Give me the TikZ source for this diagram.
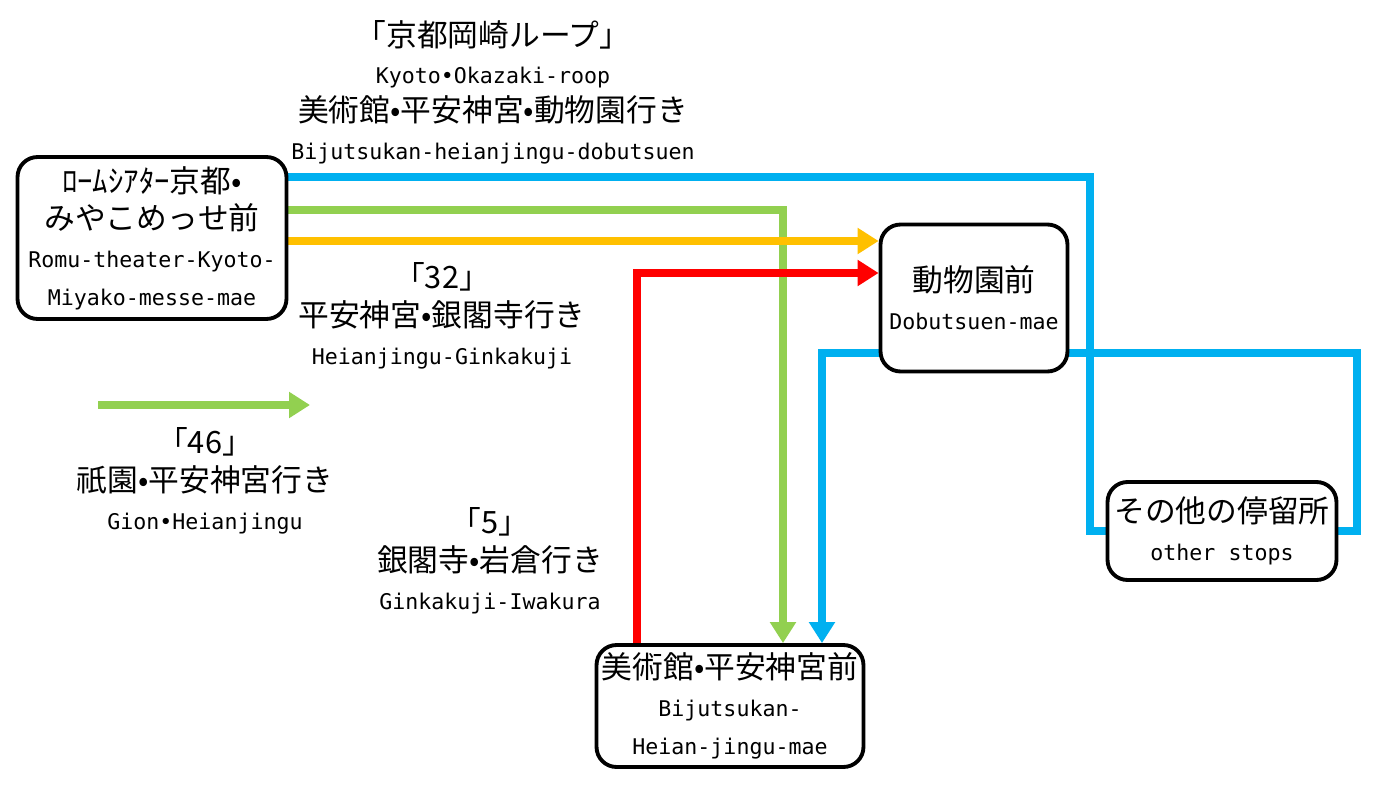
\documentclass[tikz,border=0pt]{standalone}
\usepackage{fontspec}
\newfontfamily\jpfont{Noto Sans CJK JP}
\newfontfamily\enfont{DejaVu Sans Mono}
\usepackage{tikz}
\usetikzlibrary{positioning, arrows.meta, backgrounds}
\definecolor{route-blue}{HTML}{00B0F0}
\definecolor{route-green}{HTML}{92D050}
\definecolor{route-yellow}{HTML}{FFC000}
\definecolor{route-red}{HTML}{FF0000}
\newcommand\latn[1]{{\enfont\fontsize{12.3}{21}\selectfont #1}}

\begin{document}
\begin{tikzpicture}[
    x=0.02cm, y=-0.02cm,
    stop/.style={draw, line width=2.2pt, rounded corners=0.4cm, fill=white,
                 align=center, inner sep=0pt, font=\jpfont\fontsize{17.5}{21.5}\selectfont},
    lbl/.style={align=center, inner sep=0pt, font=\jpfont\fontsize{17.5}{21.5}\selectfont},
    route/.style={line width=4.5pt},
    tip/.style={-{Triangle[length=0.42cm, width=0.5cm]}},
]
    \useasboundingbox (0,0) rectangle (1380,794);

    \node[stop, minimum width=5.38cm, minimum height=3.24cm] (romu) at (152,238)
        {ﾛｰﾑｼｱﾀｰ京都•\\みやこめっせ前\\\latn{Romu-theater-Kyoto-}\\\latn{Miyako-messe-mae}};
    \node[stop, minimum width=3.74cm, minimum height=2.94cm] (dobu) at (974,298)
        {動物園前\\\latn{Dobutsuen-mae}};
    \node[stop, minimum width=5.34cm, minimum height=2.44cm] (bij) at (730,706)
        {美術館•平安神宮前\\\latn{Bijutsukan-}\\\latn{Heian-jingu-mae}};
    \node[stop, minimum width=4.58cm, minimum height=1.96cm] (other) at (1222,531)
        {その他の停留所\\\latn{other stops}};

    \node[lbl] (loop) at (493,92)
        {「京都岡崎ループ」\\\latn{Kyoto•Okazaki-roop}\\美術館•平安神宮•動物園行き\\\latn{Bijutsukan-heianjingu-dobutsuen}};
    \node[lbl] (r32) at (442,316) {「32」\\平安神宮•銀閣寺行き\\\latn{Heianjingu-Ginkakuji}};
    \node[lbl] (r46) at (205,481) {「46」\\祇園•平安神宮行き\\\latn{Gion•Heianjingu}};
    \node[lbl] (r5) at (490,561) {「5」\\銀閣寺•岩倉行き\\\latn{Ginkakuji-Iwakura}};

    \coordinate (blueA) at (1090,177);
    \coordinate (blueB) at (1357,353);
    \coordinate (blueC) at (822,353);
    \coordinate (greenA) at (783,210);
    \coordinate (yellowA) at (287,241);
    \coordinate (redA) at (637,273);
    \coordinate (legA) at (98,405);
    \coordinate (legB) at (310,405);

    \begin{scope}[on background layer]
        \fill[white] (0,0) rectangle (1380,794);
        \draw[route, route-blue] (romu.east |- blueA) -- (blueA) |- (other.west);
        \draw[route, route-blue, tip] (other.east) -| (blueB) -- (blueC) -- (blueC |- bij.north);
        \draw[route, route-green, tip] (romu.east |- greenA) -- (greenA) -- (greenA |- bij.north);
        \draw[route, route-yellow, tip] (romu.east |- yellowA) -- (dobu.west |- yellowA);
        \draw[route, route-red, tip] (redA |- bij.north) -- (redA) -- (dobu.west |- redA);
    \end{scope}
    \draw[route, route-green, tip] (legA) -- (legB);
\end{tikzpicture}
\end{document}
